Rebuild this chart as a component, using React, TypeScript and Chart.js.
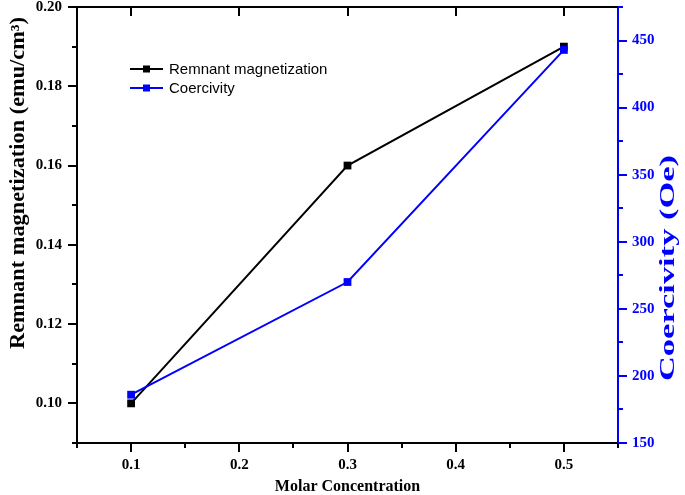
import React, { useEffect, useRef } from 'react';
import { Chart, registerables } from 'chart.js';

Chart.register(...registerables);

// ---- data ----
const molarConcentration = [0.1, 0.3, 0.5];
const remnantMagnetization = [0.10, 0.16, 0.19];
const coercivity = [186, 270, 443];
const seriesLabels = ['Remnant magnetization', 'Coercivity'];
const xTitle = 'Molar Concentration';
const yLeftTitle = 'Remnant magnetization (emu/cm³)';
const yRightTitle = 'Coercivity (Oe)';

const SERIF = '"Liberation Serif", "Times New Roman", serif';
const SANS = '"Liberation Sans", Arial, sans-serif';
const BLACK = '#000000';
const BLUE = '#0000ff';

const decorPlugin = {
  id: 'decor',
  afterDraw(chart: any) {
    const { ctx, chartArea: a, scales } = chart;
    ctx.save();
    ctx.lineCap = 'butt';
    ctx.lineWidth = 2;
    // top frame line
    ctx.strokeStyle = BLACK;
    ctx.beginPath();
    ctx.moveTo(a.left - 1, a.top);
    ctx.lineTo(a.right, a.top);
    ctx.stroke();

    const tickLen = (t: any, maj: number, min: number) => (t.label !== '' ? maj : min);
    // x ticks: bottom outward, top inward (major only)
    const sx = scales.x;
    sx.ticks.forEach((t: any) => {
      const p = Math.round(sx.getPixelForValue(t.value));
      const l = tickLen(t, 9, 5);
      ctx.beginPath();
      ctx.moveTo(p, a.bottom);
      ctx.lineTo(p, a.bottom + l);
      if (t.label !== '') {
        ctx.moveTo(p, a.top);
        ctx.lineTo(p, a.top + l);
      }
      ctx.stroke();
    });
    const sy = scales.y;
    sy.ticks.forEach((t: any) => {
      const p = Math.round(sy.getPixelForValue(t.value));
      const l = tickLen(t, 9, 5);
      ctx.beginPath();
      ctx.moveTo(a.left - l, p);
      ctx.lineTo(a.left, p);
      ctx.stroke();
    });
    const sy1 = scales.y1;
    ctx.strokeStyle = BLUE;
    sy1.ticks.forEach((t: any) => {
      const p = Math.round(sy1.getPixelForValue(t.value));
      const l = tickLen(t, 9, 5);
      ctx.beginPath();
      ctx.moveTo(a.right, p);
      ctx.lineTo(a.right + l, p);
      ctx.stroke();
    });

    // vertical axis titles (both read bottom-to-top)
    const drawVTitle = (text: string, cx: number, cy: number, size: number, target: number, color: string) => {
      ctx.save();
      ctx.font = `bold ${size}px ${SERIF}`;
      const w = ctx.measureText(text).width;
      ctx.translate(cx, cy);
      ctx.rotate(-Math.PI / 2);
      ctx.scale(target / w, 1);
      ctx.fillStyle = color;
      ctx.textAlign = 'center';
      ctx.textBaseline = 'middle';
      ctx.fillText(text, 0, 0);
      ctx.restore();
    };
    drawVTitle(yLeftTitle, 19, 183, 20, 332, BLACK);
    drawVTitle(yRightTitle, chart.width - 17, 268, 22, 226, BLUE);

    // legend
    const ds = chart.data.datasets;
    ds.forEach((d: any, i: number) => {
      const y = a.top + 62 + i * 19;
      const x0 = a.left + 53;
      ctx.strokeStyle = d.borderColor;
      ctx.lineWidth = 2;
      ctx.beginPath();
      ctx.moveTo(x0, y);
      ctx.lineTo(x0 + 33, y);
      ctx.stroke();
      ctx.fillStyle = d.pointBackgroundColor;
      ctx.fillRect(x0 + 13, y - 3.5, 7, 7);
      ctx.fillStyle = BLACK;
      ctx.font = `15px ${SANS}`;
      ctx.textAlign = 'left';
      ctx.textBaseline = 'middle';
      ctx.fillText(d.label, x0 + 39, y + 1);
    });
    ctx.restore();
  },
};

export default function App() {
  const ref = useRef<HTMLCanvasElement | null>(null);
  useEffect(() => {
    if (!ref.current) return;
    const noPad = (s: any) => {
      s.paddingTop = 0;
      s.paddingBottom = 0;
      s.paddingLeft = 0;
      s.paddingRight = 0;
    };
    const chart = new Chart(ref.current, {
      type: 'line',
      data: {
        datasets: [
          {
            label: seriesLabels[0],
            data: molarConcentration.map((x, i) => ({ x, y: remnantMagnetization[i] })),
            borderColor: BLACK,
            backgroundColor: BLACK,
            pointBackgroundColor: BLACK,
            pointStyle: 'rect',
            pointRadius: 5.5,
            pointBorderWidth: 0,
            borderWidth: 2,
            yAxisID: 'y',
            order: 1,
          },
          {
            label: seriesLabels[1],
            data: molarConcentration.map((x, i) => ({ x, y: coercivity[i] })),
            borderColor: BLUE,
            backgroundColor: BLUE,
            pointBackgroundColor: BLUE,
            pointStyle: 'rect',
            pointRadius: 5.5,
            pointBorderWidth: 0,
            borderWidth: 2,
            yAxisID: 'y1',
            order: 0,
          },
        ],
      },
      options: {
        responsive: false,
        animation: false,
        layout: { padding: { top: 7, left: 0, right: 0, bottom: 0 } },
        plugins: { legend: { display: false }, tooltip: { enabled: false } },
        scales: {
          x: {
            type: 'linear',
            min: 0.05,
            max: 0.55,
            grid: { display: false, drawTicks: false },
            border: { color: BLACK, width: 2 },
            ticks: {
              stepSize: 0.05,
              autoSkip: false,
              maxRotation: 0,
              padding: 13,
              color: BLACK,
              font: { family: SERIF, size: 15, weight: 'bold' },
              callback: (v: any) => (Math.round(Number(v) * 100) % 10 === 0 ? Number(v).toFixed(1) : ''),
            },
            title: {
              display: true,
              text: xTitle,
              color: BLACK,
              font: { family: SERIF, size: 16, weight: 'bold', lineHeight: 1 },
              padding: { top: 0, bottom: 0 },
            },
            afterFit: (s: any) => {
              s.height = 52;
              noPad(s);
            },
          },
          y: {
            type: 'linear',
            position: 'left',
            min: 0.09,
            max: 0.2,
            grid: { display: false, drawTicks: false },
            border: { color: BLACK, width: 2 },
            ticks: {
              stepSize: 0.01,
              autoSkip: false,
              padding: 15,
              color: BLACK,
              font: { family: SERIF, size: 15, weight: 'bold' },
              callback: (v: any) => (Math.round(Number(v) * 100) % 2 === 0 ? Number(v).toFixed(2) : ''),
            },
            afterFit: (s: any) => {
              s.width = 77;
              noPad(s);
            },
          },
          y1: {
            type: 'linear',
            position: 'right',
            min: 150,
            max: 475,
            grid: { display: false, drawTicks: false },
            border: { color: BLUE, width: 2 },
            ticks: {
              stepSize: 25,
              autoSkip: false,
              padding: 14,
              color: BLUE,
              font: { family: SERIF, size: 15, weight: 'bold' },
              callback: (v: any) => (Math.round(Number(v)) % 50 === 0 ? String(Math.round(Number(v))) : ''),
            },
            afterFit: (s: any) => {
              s.width = 67;
              noPad(s);
            },
          },
        },
      },
      plugins: [decorPlugin],
    });
    return () => chart.destroy();
  }, []);
  return (
    <div style={{ position: 'fixed', left: 0, top: 0, width: 685, height: 495, background: '#fff' }}>
      <canvas ref={ref} width={685} height={495} style={{ display: 'block' }} />
    </div>
  );
}
